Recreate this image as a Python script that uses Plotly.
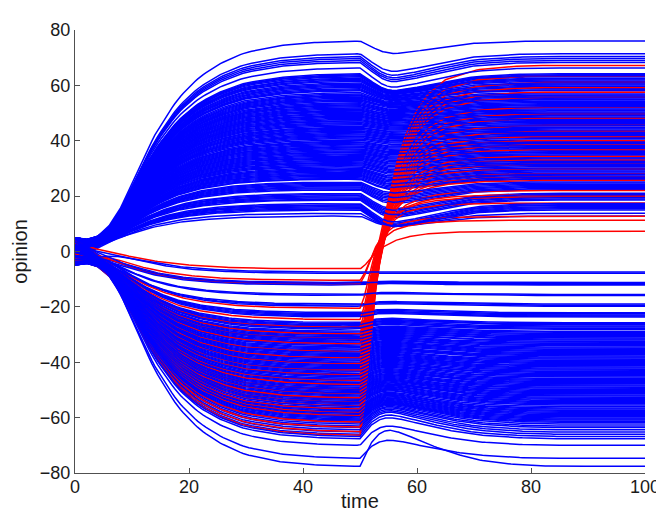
import numpy as np
import plotly.graph_objects as go

# ---------------- data ----------------
# opinion levels of the blue agents that end up positive (plateau values)
pos_levels = [76.0, 71.4, 70.4, 69.7, 69.0, 68.3, 66.3,
              64.2, 63.8, 63.5, 63.1, 62.6, 62.3, 61.9, 61.5, 60.9, 60.5, 60.1, 59.7, 59.3, 58.8, 58.4,
              58.1, 57.4, 56.9, 56.5, 56.2, 55.8, 55.4, 55.0, 54.7, 54.3, 53.8, 53.4, 53.0, 52.7, 52.3,
              51.9, 51.5, 51.1, 50.8, 50.4, 50.0, 49.6, 49.2, 48.9, 48.5, 48.1, 47.7, 47.3, 47.0, 46.6,
              46.2, 45.8, 45.4, 44.9, 44.6, 44.2, 43.8, 43.5, 43.1, 42.7, 42.3, 41.9, 41.6, 41.2, 40.8,
              40.3, 39.8, 39.5, 39.1, 38.7, 38.3, 37.9, 37.6, 37.2, 36.8, 36.4, 36.0, 35.7, 35.3, 34.9,
              34.5, 34.1, 33.8, 33.4, 33.0, 32.6, 32.2, 31.9, 31.5, 31.1, 30.7, 30.2, 29.8, 29.5, 29.1,
              28.7, 28.3, 27.9, 27.6, 27.2, 26.8, 26.4, 26.1, 25.1, 24.7, 24.3, 23.9, 23.5, 23.1, 22.7,
              22.3, 21.0, 20.6, 20.2, 19.8, 19.4, 19.0, 18.6, 17.3, 16.9, 16.6, 16.2, 15.8, 15.4, 15.0,
              13.8, 12.8]

# opinion levels of the blue agents that stay negative
neg_levels = [-7.4, -7.9, -11.2, -11.5, -11.8, -12.1, -15.5, -15.9, -19.0, -19.4, -19.8, -22.1, -22.5,
              -22.9, -23.3, -23.7, -25.7, -26.1, -26.5, -26.9, -27.3, -27.7, -28.1, -28.8, -29.2, -29.6,
              -30.0, -30.4, -30.8, -31.2, -31.6, -32.0, -32.4, -32.8, -33.2, -33.6, -34.0, -34.5, -34.9,
              -35.3, -35.7, -36.1, -36.5, -36.9, -37.3, -37.7, -38.1, -38.5, -38.9, -39.3, -39.7, -40.1,
              -40.5, -40.9, -41.3, -41.7, -42.1, -42.5, -42.9, -43.3, -43.7, -44.1, -44.5, -44.9, -45.3,
              -45.8, -46.2, -46.6, -47.0, -47.4, -47.8, -48.2, -48.6, -49.0, -49.4, -49.8, -50.2, -50.6,
              -51.0, -51.4, -51.8, -52.2, -52.6, -53.0, -53.4, -53.8, -54.2, -54.6, -55.0, -55.4, -56.0,
              -56.5, -56.9, -57.3, -57.7, -58.1, -58.5, -58.9, -59.3, -59.7, -60.1, -60.5, -60.9, -61.3,
              -61.7, -62.3, -63.0, -63.6, -64.4, -65.2, -66.0, -66.8, -67.6, -70.0, -74.7, -77.6]

# red agents: level before the switch at t=50, and final level
red_before = [-6.3, -10.4, -11.6, -20.5, -24.6, -27.4, -29.7, -31.5, -33.3, -36.2, -38.5, -40.4, -42.7,
              -44.6, -46.5, -48.0, -49.8, -51.2, -52.8, -53.3, -54.5, -55.8, -56.9, -58.2, -59.3, -61.6,
              -63.4, -65.0, -66.4]
red_after = [7.3, 11.3, 12.7, 19.7, 25.6, 67.2, 34.4, 49.8, 28.0, 55.7, 22.0, 63.4, 41.5, 31.5, 59.2,
             36.8, 17.5, 52.1, 43.3, 48.0, 20.5, 45.5, 38.5, 61.0, 30.0, 33.0, 26.8, 57.5, 40.0]

# initial opinions (t = 0), cycled over the agents
pos_starts = [4.8, -1.5, 2.7, 0.4, -3.2, 3.9, 1.2, -0.7, 5.0, 2.0, -2.4, 3.3, 0.9, 4.2, -0.2]
neg_starts = [-4.6, 1.8, -2.1, 3.5, -0.3, -3.8, 0.9, -1.4, 4.4, -4.9, 2.6, -2.9, 0.2, -1.9]
red_starts = [3.2, -1.0, 0.5, -3.6, 2.2, -4.5, 4.1, -2.3, 1.4, -0.2, 3.8]

# time-course shapes
rise_t = [0, 2, 4, 6, 8, 10, 12, 14, 16, 18, 20, 22, 25, 28, 30, 35, 40, 45, 50]
rise_s = [0, 0.015, 0.05, 0.11, 0.2, 0.32, 0.44, 0.55, 0.64, 0.72, 0.78, 0.83, 0.885, 0.925, 0.945,
          0.975, 0.99, 0.997, 1.0]
settle_t = [0, 1, 2, 3, 4, 5, 6, 8, 10, 14]
settle_h = [0, 0.2, 0.38, 0.53, 0.65, 0.75, 0.83, 0.93, 0.97, 1.0]
exp_lv = [7, 12, 30, 78]
exp_k = [1.0, 0.6, 0.8, 1.0]

dip_t = [0, 50, 51, 52, 53, 54, 55, 56, 58, 60, 63, 66, 70, 75, 80, 85, 100]
dip_g = [0, 0, 0.2, 0.45, 0.68, 0.85, 0.96, 1.0, 0.92, 0.8, 0.6, 0.4, 0.18, 0.06, 0.01, 0, 0]
bump_t = [0, 50, 51, 52, 53, 54, 55, 56, 58, 60, 63, 66, 70, 75, 80, 85, 100]
bump_g = [0, 0, 0.35, 0.65, 0.85, 0.96, 1.0, 0.98, 0.88, 0.74, 0.55, 0.38, 0.2, 0.08, 0.02, 0, 0]
dip_lv = [12, 16, 20, 25, 35, 45, 55, 62, 66, 70, 76]
dip_amt = [3, 7, 6, 4, 2, 1.5, 2.5, 5, 7, 7, 4.5]
bump_lv = [-78, -74, -70, -66, -60, -50, -40, -30, -20, -12, -7]
bump_amt = [14, 5, 7, 8, 6, 4, 3, 2, 1, 0.5, 0]

jump_t = [0, 50, 50.5, 51, 51.5, 52, 52.5, 53, 54, 55, 56, 58, 100]
jump_a = [0, 0, 0.08, 0.2, 0.35, 0.5, 0.63, 0.74, 0.87, 0.94, 0.98, 1.0, 1.0]
fan_t = [0, 53, 54, 55, 56, 57, 58, 60, 62, 65, 70, 75, 80, 100]
fan_b = [0, 0, 0.08, 0.2, 0.34, 0.46, 0.56, 0.72, 0.82, 0.91, 0.97, 0.99, 1.0, 1.0]

# ---------------- build trajectories ----------------
t = np.unique(np.round(np.concatenate([np.arange(0, 50, 0.5), np.arange(50, 60, 0.1),
                                       np.arange(60, 100.01, 0.5)]), 3))
h = np.interp(t, settle_t, settle_h)
s0 = np.interp(t, rise_t, rise_s)
g_dip = np.interp(t, dip_t, dip_g)
g_bump = np.interp(t, bump_t, bump_g)
a_jump = np.interp(t, jump_t, jump_a)
b_fan = np.interp(t, fan_t, fan_b)


def phase1(x0, p):
    k = np.interp(abs(p), exp_lv, exp_k)
    return x0 * (1 - h) + p * s0 ** k


blue_curves = []
for i, p in enumerate(pos_levels):
    y = phase1(pos_starts[i % len(pos_starts)], p) - np.interp(p, dip_lv, dip_amt) * g_dip
    blue_curves.append(y)
for i, p in enumerate(neg_levels):
    y = phase1(neg_starts[i % len(neg_starts)], p) + np.interp(p, bump_lv, bump_amt) * g_bump
    blue_curves.append(y)

red_curves = []
for i, (p, q) in enumerate(zip(red_before, red_after)):
    c = min(q, 15) - 5
    y = phase1(red_starts[i % len(red_starts)], p) + (c - p) * a_jump + (q - c) * b_fan
    red_curves.append(y)


def pack(curves):
    xs, ys = [], []
    for y in curves:
        xs.extend(t.tolist()); xs.append(None)
        ys.extend(np.round(y, 3).tolist()); ys.append(None)
    return xs, ys


blue_a = [c for j, c in enumerate(blue_curves) if j % 3 != 0]
blue_b = [c for j, c in enumerate(blue_curves) if j % 3 == 0]

fig = go.Figure()
for curves, col in [(blue_a, "#0000ff"), (red_curves, "#ff0000"), (blue_b, "#0000ff")]:
    xs, ys = pack(curves)
    fig.add_trace(go.Scatter(x=xs, y=ys, mode="lines", line=dict(color=col, width=1.5),
                             hoverinfo="skip", showlegend=False))

FONT = "Liberation Sans, Arial, sans-serif"
axis_common = dict(showline=True, linecolor="#505050", linewidth=1, ticks="inside", ticklen=5,
                   tickcolor="#505050", showgrid=False, zeroline=False,
                   tickfont=dict(family=FONT, size=18, color="#1a1a1a"))

fig.update_layout(
    width=664, height=515,
    margin=dict(l=67, r=21, t=12, b=50),
    paper_bgcolor="white", plot_bgcolor="white",
    xaxis=dict(range=[0, 100], tickvals=[0, 20, 40, 60, 80, 100], ticklabelstandoff=-3, **axis_common),
    yaxis=dict(range=[-80, 80], tickvals=[-80, -60, -40, -20, 0, 20, 40, 60, 80], **axis_common),
    annotations=[
        dict(text="time", xref="paper", yref="paper", x=0.5, y=-0.064, xanchor="center",
             yanchor="middle", showarrow=False, font=dict(family=FONT, size=20, color="#1a1a1a")),
        dict(text="opinion", xref="paper", yref="paper", x=-0.098, y=0.5, xanchor="center",
             yanchor="middle", textangle=-90, showarrow=False, borderpad=0,
             font=dict(family=FONT, size=20, color="#1a1a1a")),
    ],
)

fig.write_html("out.html")
